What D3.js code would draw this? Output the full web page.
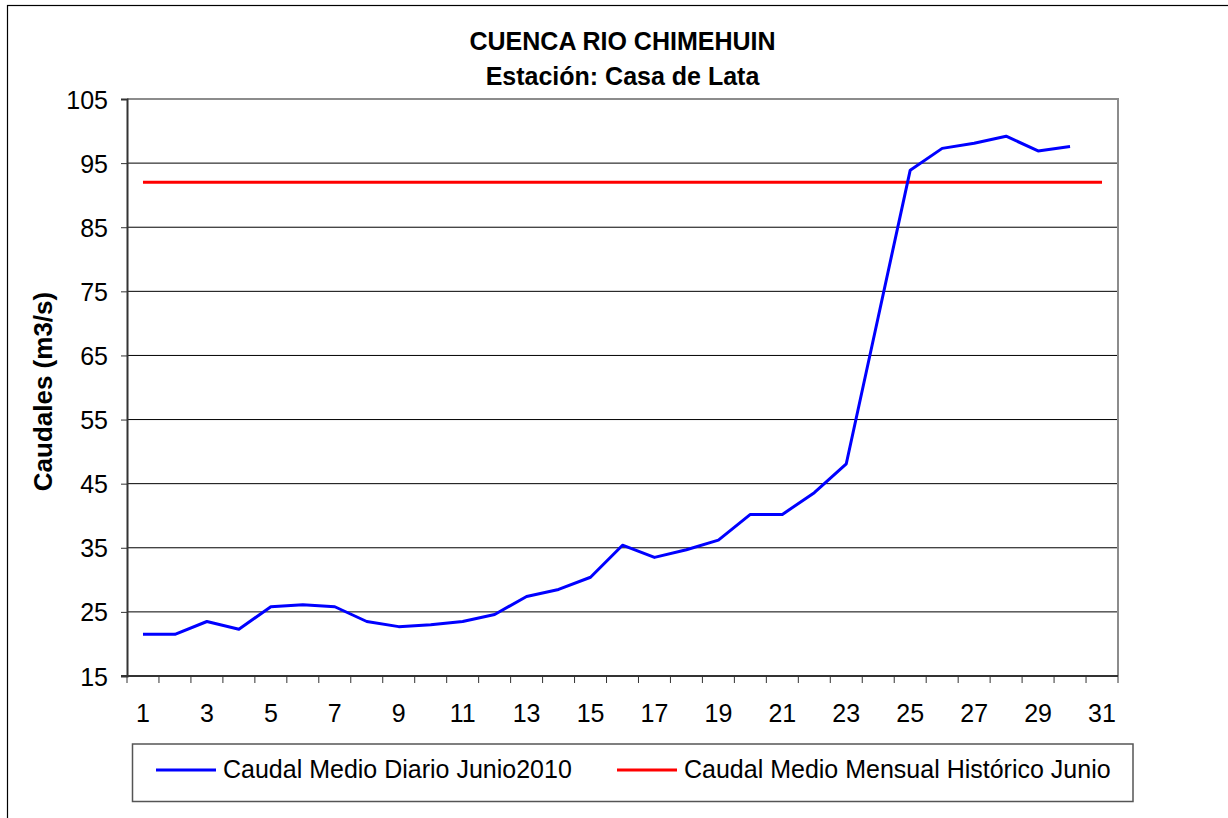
<!DOCTYPE html>
<html><head><meta charset="utf-8">
<script src="https://cdn.jsdelivr.net/npm/d3@7/dist/d3.min.js"></script>
<style>
html,body{margin:0;padding:0;background:#fff;}
svg{display:block;font-family:"Liberation Sans",Arial,sans-serif;}
</style></head>
<body>
<svg id="c" width="1228" height="818"></svg>
<script>
const days = d3.range(1, 32);
const xTickLabels = [1,3,5,7,9,11,13,15,17,19,21,23,25,27,29,31];
const yTicks = [15,25,35,45,55,65,75,85,95,105];
const dailyDays = d3.range(1, 31);
const dailyFlow = [21.5,21.5,23.5,22.3,25.8,26.1,25.8,23.5,22.7,23.0,23.5,24.6,27.4,28.5,30.4,35.4,33.5,34.7,36.2,40.2,40.2,43.6,48.1,71.0,93.9,97.3,98.1,99.2,96.9,97.6];
const historicFlow = days.map(() => 92.0);
const seriesNames = ["Caudal Medio Diario Junio2010", "Caudal Medio Mensual Histórico Junio"];
const title1 = "CUENCA RIO CHIMEHUIN";
const title2 = "Estación: Casa de Lata";
const yTitle = "Caudales (m3/s)";

const svg = d3.select("#c");
const L = 127, R = 1118, T = 99, B = 676;

// outer frame
svg.append("rect").attr("x",7.5).attr("y",5.5).attr("width",1300).attr("height",900)
  .attr("fill","none").attr("stroke","#000").attr("stroke-width",1.2);

const x = d3.scaleBand().domain(days).range([L, R]).padding(0);
const y = d3.scaleLinear().domain([15,105]).range([B, T]);
const cx = d => x(d) + x.bandwidth()/2;

// gridlines
svg.append("g").selectAll("line").data(yTicks.filter(v => v>15 && v<105)).join("line")
  .attr("x1",L).attr("x2",R).attr("y1",d=>y(d)).attr("y2",d=>y(d))
  .attr("stroke","#000").attr("stroke-width",1);

// plot border top/right gray
svg.append("path").attr("d",`M${L},${T}H${R}V${B}`).attr("fill","none")
  .attr("stroke","#8c8c8c").attr("stroke-width",2);

// y axis
const yAxis = d3.axisLeft(y).tickValues(yTicks).tickSize(6).tickPadding(13);
const gy = svg.append("g").attr("transform",`translate(${L},0)`).call(yAxis);
gy.select(".domain").attr("stroke","#333").attr("stroke-width",2);
gy.selectAll(".tick line").attr("stroke","#333");
gy.selectAll("text").attr("font-size",25).attr("fill","#000").attr("font-family","Liberation Sans, Arial, sans-serif").attr("dy","0.36em");

// x axis: ticks at category boundaries
const gx = svg.append("g").attr("transform",`translate(0,${B})`);
gx.append("line").attr("x1",L-6).attr("x2",R).attr("y1",0).attr("y2",0).attr("stroke","#333").attr("stroke-width",2);
gx.selectAll("line.t").data(d3.range(0,32)).join("line").attr("class","t")
  .attr("x1",i=>L + i*x.bandwidth()).attr("x2",i=>L + i*x.bandwidth())
  .attr("y1",0).attr("y2",7).attr("stroke","#333").attr("stroke-width",1);
gx.selectAll("text").data(xTickLabels).join("text")
  .attr("x",d=>cx(d)).attr("y",46).attr("text-anchor","middle")
  .attr("font-size",25).text(d=>d);

// historic line
const line = d3.line().x(d=>cx(d[0])).y(d=>y(d[1]));
svg.append("path").datum(days.map((d,i)=>[d,historicFlow[i]]))
  .attr("d",line).attr("fill","none").attr("stroke","#ff0000").attr("stroke-width",3);
// daily line
svg.append("path").datum(dailyDays.map((d,i)=>[d,dailyFlow[i]]))
  .attr("d",line).attr("fill","none").attr("stroke","#0000ff").attr("stroke-width",3)
  .attr("stroke-linejoin","round");

// titles
const midX = (L+R)/2;
svg.append("text").attr("x",midX).attr("y",49.5).attr("text-anchor","middle")
  .attr("font-weight","bold").attr("font-size",25).text(title1);
svg.append("text").attr("x",midX).attr("y",85).attr("text-anchor","middle")
  .attr("font-weight","bold").attr("font-size",25).text(title2);
svg.append("text").attr("transform",`translate(52,${(T+B)/2+4}) rotate(-90)`)
  .attr("text-anchor","middle").attr("font-weight","bold").attr("font-size",26).text(yTitle);

// legend
const lg = svg.append("g");
lg.append("rect").attr("x",132.5).attr("y",744).attr("width",1000.5).attr("height",57.5)
  .attr("fill","#fff").attr("stroke","#555").attr("stroke-width",1.5);
const legItems = [{name:seriesNames[0],color:"#0000ff",x0:156},{name:seriesNames[1],color:"#ff0000",x0:617}];
legItems.forEach(it=>{
  lg.append("line").attr("x1",it.x0).attr("x2",it.x0+60).attr("y1",770).attr("y2",770)
    .attr("stroke",it.color).attr("stroke-width",3);
  lg.append("text").attr("x",it.x0+67).attr("y",778).attr("font-size",25).text(it.name);
});
</script>
</body></html>
